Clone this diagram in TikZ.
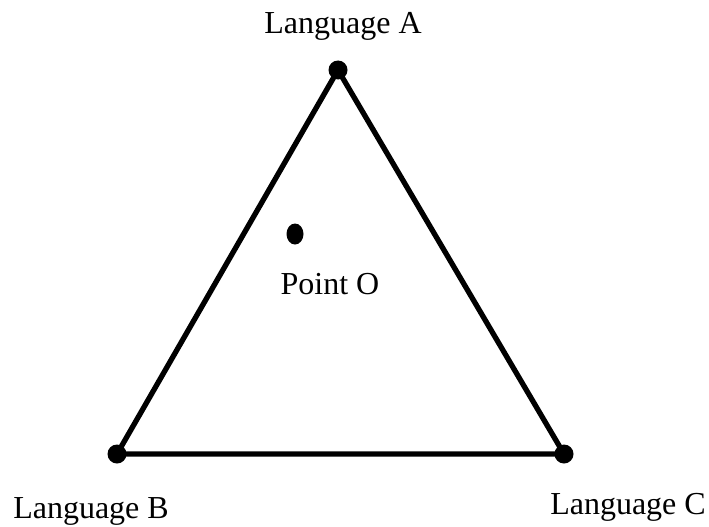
\documentclass[tikz,border=0pt]{standalone}
\usepackage{fontspec}
\setmainfont{Liberation Serif}
\usetikzlibrary{shapes.geometric}
\begin{document}
\begin{tikzpicture}[x=1pt,y=-1pt,
  edge/.style={line width=5.3pt,line join=round},
  dot/.style={circle,fill=black,minimum size=19pt,inner sep=0pt},
  lbl/.style={inner sep=0pt,font=\fontsize{32}{38}\selectfont}]
\useasboundingbox (0,0) rectangle (709,527);
\node[dot] (A) at (338,70) {};
\node[dot] (B) at (117,454) {};
\node[dot] (C) at (564,454) {};
\node[ellipse,fill=black,minimum width=17pt,minimum height=21pt,inner sep=0pt] (O) at (295,234) {};
\draw[edge] (A.center) -- (B.center) -- (C.center) -- cycle;
\node[lbl] (la) at (343,26) {Language A};
\node[lbl] (lb) at (91,511) {Language B};
\node[lbl] (lc) at (628,507) {Language C};
\node[lbl] (lo) at (330,284) {Point O};
\end{tikzpicture}
\end{document}
